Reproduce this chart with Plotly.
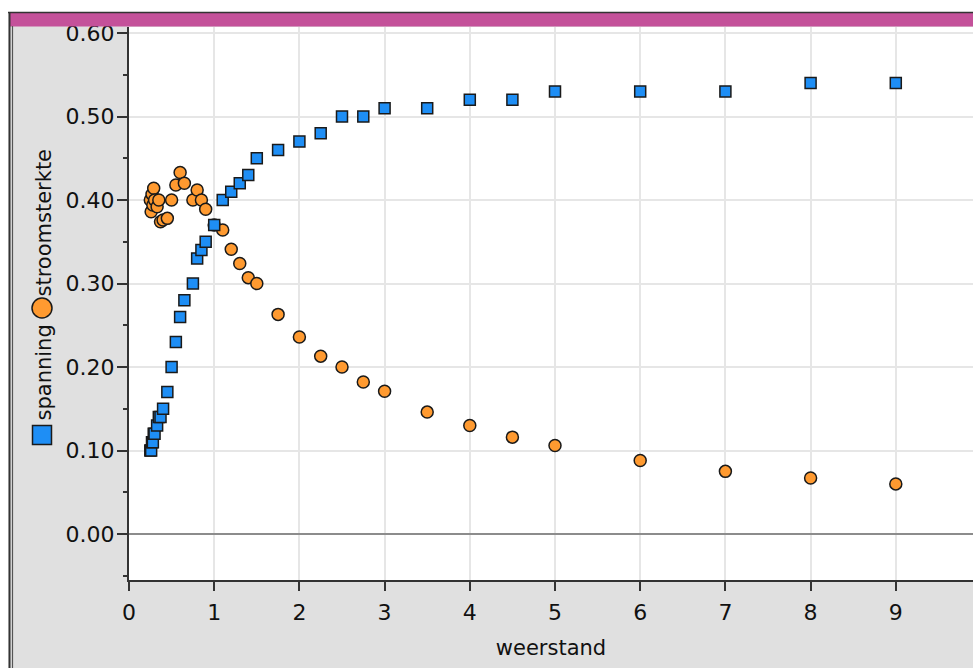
import plotly.graph_objects as go

# ---- data ----
weerstand = [0.25, 0.26, 0.27, 0.28, 0.29, 0.30, 0.33, 0.35, 0.37, 0.40,
             0.45, 0.50, 0.55, 0.60, 0.65, 0.75, 0.80, 0.85, 0.90, 1.0,
             1.1, 1.2, 1.3, 1.4, 1.5, 1.75, 2.0, 2.25, 2.5, 2.75,
             3.0, 3.5, 4.0, 4.5, 5.0, 6.0, 7.0, 8.0, 9.0]
spanning = [0.10, 0.10, 0.11, 0.11, 0.12, 0.12, 0.13, 0.14, 0.14, 0.15,
            0.17, 0.20, 0.23, 0.26, 0.28, 0.30, 0.33, 0.34, 0.35, 0.37,
            0.40, 0.41, 0.42, 0.43, 0.45, 0.46, 0.47, 0.48, 0.50, 0.50,
            0.51, 0.51, 0.52, 0.52, 0.53, 0.53, 0.53, 0.54, 0.54]
stroomsterkte = [0.400, 0.386, 0.407, 0.394, 0.414, 0.400, 0.392, 0.400, 0.374, 0.376,
                 0.378, 0.400, 0.418, 0.433, 0.420, 0.400, 0.412, 0.400, 0.389, 0.370,
                 0.364, 0.341, 0.324, 0.307, 0.300, 0.263, 0.236, 0.213, 0.200, 0.182,
                 0.171, 0.146, 0.130, 0.116, 0.106, 0.088, 0.075, 0.067, 0.060]
x_ticks = [0, 1, 2, 3, 4, 5, 6, 7, 8, 9]
y_ticks = [0.0, 0.1, 0.2, 0.3, 0.4, 0.5, 0.6]

W, H = 973, 668
ML, MR, MT, MB = 129, 0, 27, 88
PW, PH = W - ML - MR, H - MT - MB

def px(xp):
    return (xp - ML) / PW

def py(yp):
    return (H - MB - yp) / PH

BLUE = "#1E8EF5"
ORANGE = "#FF9A30"
EDGE = "#1a1a1a"
FONT = "DejaVu Sans"

fig = go.Figure()
fig.add_trace(go.Scatter(
    x=weerstand, y=stroomsterkte, mode="markers", name="stroomsterkte",
    marker=dict(symbol="circle", size=12, color=ORANGE, line=dict(color=EDGE, width=1.5)),
))
fig.add_trace(go.Scatter(
    x=weerstand, y=spanning, mode="markers", name="spanning",
    marker=dict(symbol="square", size=11, color=BLUE, line=dict(color=EDGE, width=1.5)),
))

shapes = [
    # white strips outside the frame
    dict(type="rect", xref="paper", yref="paper", x0=px(0), x1=px(8.5), y0=py(H), y1=py(0),
         fillcolor="white", line=dict(width=0), layer="above"),
    dict(type="rect", xref="paper", yref="paper", x0=px(0), x1=px(W), y0=py(12), y1=py(0),
         fillcolor="white", line=dict(width=0), layer="above"),
    # magenta band
    dict(type="rect", xref="paper", yref="paper", x0=px(10), x1=px(W), y0=py(26.5), y1=py(13),
         fillcolor="#C4519A", line=dict(width=0), layer="above"),
    # frame lines
    dict(type="line", xref="paper", yref="paper", x0=px(8), x1=px(W), y0=py(12.5), y1=py(12.5),
         line=dict(color="#333333", width=1.5), layer="above"),
    dict(type="line", xref="paper", yref="paper", x0=px(9.5), x1=px(9.5), y0=py(12), y1=py(H),
         line=dict(color="#333333", width=2), layer="above"),
    dict(type="line", xref="paper", yref="paper", x0=px(12.5), x1=px(12.5), y0=py(26), y1=py(H),
         line=dict(color="#555555", width=1.2), layer="above"),
    # legend markers
    dict(type="rect", xref="paper", yref="paper", x0=px(32.5), x1=px(51.5), y0=py(444.5), y1=py(425.5),
         fillcolor=BLUE, line=dict(color=EDGE, width=1.5), layer="above"),
    dict(type="circle", xref="paper", yref="paper", x0=px(32), x1=px(52), y0=py(318), y1=py(298),
         fillcolor=ORANGE, line=dict(color=EDGE, width=1.5), layer="above"),
]

annotations = [
    dict(text="spanning", xref="paper", yref="paper", x=px(43), y=py(372.5),
         xanchor="center", yanchor="middle", textangle=-90, showarrow=False,
         font=dict(family=FONT, size=21, color="#111111")),
    dict(text="stroomsterkte", xref="paper", yref="paper", x=px(43), y=py(222.5),
         xanchor="center", yanchor="middle", textangle=-90, showarrow=False,
         font=dict(family=FONT, size=21, color="#111111")),
]

fig.update_layout(
    width=W, height=H,
    margin=dict(l=ML, r=MR, t=MT, b=MB, pad=0),
    paper_bgcolor="#E0E0E0",
    plot_bgcolor="white",
    showlegend=False,
    font=dict(family=FONT, size=21, color="#111111"),
    shapes=shapes,
    annotations=annotations,
)
fig.update_xaxes(
    range=[0, PW / 85.2], tickmode="array", tickvals=x_ticks,
    ticktext=[str(v) for v in x_ticks],
    showline=True, linecolor="#333333", linewidth=2,
    ticks="outside", ticklen=9, tickwidth=2, tickcolor="#333333",
    showgrid=True, gridcolor="#E6E6E6", gridwidth=2, zeroline=False,
    tickfont=dict(family=FONT, size=22, color="#111111"),
    ticklabelstandoff=3,
    title=dict(text="weerstand", font=dict(family=FONT, size=21, color="#111111"), standoff=16),
)
fig.update_yaxes(
    range=[-46 / 835, (534 - 27) / 835], tickmode="array", tickvals=y_ticks,
    ticktext=["%.2f" % v for v in y_ticks],
    showline=True, linecolor="#333333", linewidth=2,
    ticks="outside", ticklen=10, tickwidth=2, tickcolor="#333333",
    minor=dict(dtick=0.05, tick0=0, ticks="outside", ticklen=4, tickwidth=2, tickcolor="#333333", showgrid=False),
    showgrid=True, gridcolor="#E6E6E6", gridwidth=2,
    zeroline=True, zerolinecolor="#8C8C8C", zerolinewidth=2,
    tickfont=dict(family=FONT, size=22, color="#111111"),
    ticklabelstandoff=-2,
)

fig.write_html("out.html")
